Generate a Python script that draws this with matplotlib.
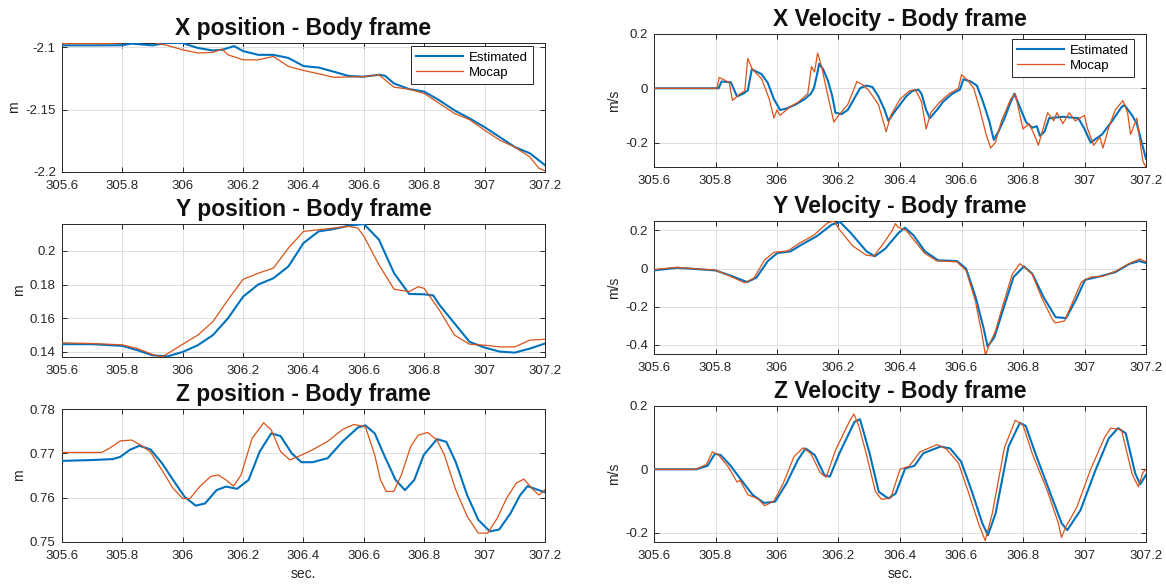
import matplotlib
matplotlib.use("Agg")
import matplotlib.pyplot as plt

plt.rcParams['font.family'] = ['Liberation Sans', 'DejaVu Sans']
plt.rcParams['axes.unicode_minus'] = False

BLUE = '#0072BD'
ORANGE = '#D95319'

# ---------------- data ----------------
xtick_vals = [305.6, 305.8, 306.0, 306.2, 306.4, 306.6, 306.8, 307.0, 307.2]
xtick_labels = ['305.6', '305.8', '306', '306.2', '306.4', '306.6', '306.8', '307', '307.2']

# X position
xpos_est_t = [305.60, 305.70, 305.80, 305.83, 305.90, 305.95, 306.00, 306.05, 306.10, 306.13, 306.17,
              306.20, 306.25, 306.30, 306.35, 306.40, 306.45, 306.50, 306.55, 306.60, 306.65, 306.67,
              306.70, 306.75, 306.80, 306.85, 306.90, 306.95, 307.00, 307.05, 307.10, 307.15, 307.20]
xpos_est = [-2.0984, -2.0984, -2.0983, -2.0970, -2.0984, -2.0962, -2.0966, -2.1005, -2.1025, -2.1020, -2.0990,
            -2.1030, -2.1060, -2.1060, -2.1085, -2.1150, -2.1162, -2.1195, -2.1230, -2.1235, -2.1220, -2.1228,
            -2.1290, -2.1335, -2.1355, -2.1425, -2.1505, -2.1570, -2.1640, -2.1720, -2.1800, -2.1850, -2.1945]
xpos_moc_t = [305.60, 305.75, 305.83, 305.90, 305.95, 306.00, 306.05, 306.10, 306.13, 306.15, 306.20,
              306.25, 306.30, 306.35, 306.40, 306.45, 306.50, 306.60, 306.65, 306.70, 306.75, 306.80,
              306.85, 306.90, 306.95, 307.00, 307.05, 307.10, 307.15, 307.18, 307.20]
xpos_moc = [-2.0970, -2.0970, -2.0958, -2.0958, -2.0985, -2.1020, -2.1045, -2.1040, -2.1013, -2.1060, -2.1100,
            -2.1100, -2.1073, -2.1153, -2.1185, -2.1212, -2.1240, -2.1235, -2.1220, -2.1320, -2.1335, -2.1370,
            -2.1450, -2.1530, -2.1580, -2.1665, -2.1745, -2.1800, -2.1880, -2.1970, -2.1990]

# X velocity
xvel_est_t = [305.60, 305.81, 305.82, 305.85, 305.87, 305.89, 305.905, 305.918, 305.95, 305.97, 305.99,
              306.01, 306.03, 306.06, 306.09, 306.11, 306.12, 306.13, 306.137, 306.15, 306.165, 306.18,
              306.19, 306.21, 306.23, 306.25, 306.27, 306.29, 306.31, 306.33, 306.35, 306.362, 306.38,
              306.40, 306.42, 306.44, 306.46, 306.47, 306.485, 306.497, 306.52, 306.54, 306.57, 306.595,
              306.606, 306.63, 306.65, 306.67, 306.69, 306.705, 306.72, 306.74, 306.76, 306.772, 306.79,
              306.81, 306.83, 306.845, 306.855, 306.87, 306.885, 306.93, 306.98, 307.00, 307.02, 307.057,
              307.09, 307.12, 307.13, 307.155, 307.17, 307.20]
xvel_est = [0.0, 0.0, 0.025, 0.022, -0.03, -0.02, -0.008, 0.07, 0.052, 0.02, -0.04,
            -0.08, -0.075, -0.06, -0.04, -0.02, 0.0, 0.05, 0.09, 0.07, 0.03, -0.03,
            -0.09, -0.095, -0.08, -0.04, 0.0, 0.01, 0.005, -0.03, -0.08, -0.12, -0.09,
            -0.06, -0.03, -0.01, -0.005, -0.02, -0.08, -0.11, -0.08, -0.05, -0.02, -0.005,
            0.033, 0.025, 0.01, -0.05, -0.12, -0.19, -0.16, -0.11, -0.05, -0.02, -0.07,
            -0.125, -0.145, -0.14, -0.175, -0.16, -0.11, -0.105, -0.11, -0.15, -0.2, -0.17,
            -0.12, -0.07, -0.062, -0.1, -0.13, -0.26]
xvel_moc_t = [305.60, 305.805, 305.812, 305.83, 305.845, 305.855, 305.88, 305.895, 305.905, 305.92, 305.95,
              305.975, 305.99, 306.00, 306.01, 306.04, 306.07, 306.10, 306.112, 306.122, 306.132, 306.145,
              306.16, 306.178, 306.185, 306.20, 306.23, 306.26, 306.28, 306.30, 306.33, 306.355, 306.37,
              306.40, 306.43, 306.45, 306.47, 306.485, 306.50, 306.53, 306.56, 306.59, 306.60, 306.62,
              306.64, 306.66, 306.68, 306.695, 306.71, 306.73, 306.76, 306.775, 306.79, 306.80, 306.82,
              306.84, 306.85, 306.87, 306.88, 306.90, 306.91, 306.93, 306.95, 306.97, 307.00, 307.01,
              307.03, 307.05, 307.06, 307.08, 307.10, 307.125, 307.14, 307.15, 307.17, 307.19, 307.20]
xvel_moc = [0.0, 0.0, 0.04, 0.03, 0.02, -0.045, -0.02, -0.01, 0.11, 0.07, 0.035,
            -0.04, -0.11, -0.08, -0.1, -0.07, -0.05, -0.02, 0.08, 0.06, 0.13, 0.08,
            0.0, -0.09, -0.125, -0.1, -0.06, 0.025, 0.012, -0.01, -0.06, -0.16, -0.1,
            -0.04, -0.01, -0.005, -0.05, -0.15, -0.09, -0.05, -0.02, 0.0, 0.05, 0.03,
            0.0, -0.08, -0.17, -0.22, -0.2, -0.12, -0.04, -0.02, -0.1, -0.15, -0.13,
            -0.18, -0.21, -0.13, -0.09, -0.12, -0.09, -0.13, -0.09, -0.12, -0.1, -0.15,
            -0.21, -0.18, -0.22, -0.14, -0.08, -0.045, -0.09, -0.17, -0.11, -0.27, -0.29]

# Y position
ypos_est_t = [305.60, 305.70, 305.80, 305.85, 305.90, 305.95, 306.00, 306.05, 306.10, 306.15, 306.20,
              306.25, 306.30, 306.35, 306.40, 306.45, 306.50, 306.55, 306.60, 306.65, 306.70, 306.75,
              306.80, 306.83, 306.85, 306.90, 306.95, 307.00, 307.05, 307.10, 307.15, 307.20]
ypos_est = [0.1446, 0.1446, 0.1436, 0.1410, 0.1380, 0.1374, 0.1400, 0.1440, 0.1500, 0.1600, 0.1728,
            0.1800, 0.1837, 0.1907, 0.2046, 0.2115, 0.2129, 0.2149, 0.2159, 0.2066, 0.1867, 0.1744,
            0.1742, 0.1735, 0.1680, 0.1570, 0.1460, 0.1426, 0.1402, 0.1396, 0.1420, 0.1450]
ypos_moc_t = [305.60, 305.70, 305.80, 305.85, 305.90, 305.93, 305.95, 306.00, 306.05, 306.10, 306.15,
              306.20, 306.25, 306.30, 306.35, 306.40, 306.45, 306.50, 306.55, 306.58, 306.60, 306.65,
              306.70, 306.75, 306.78, 306.80, 306.85, 306.90, 306.95, 307.00, 307.05, 307.10, 307.15, 307.20]
ypos_moc = [0.1454, 0.1450, 0.1442, 0.1420, 0.1385, 0.1370, 0.1390, 0.1446, 0.1500, 0.1580, 0.1710,
            0.1831, 0.1867, 0.1897, 0.2016, 0.2115, 0.2125, 0.2135, 0.2145, 0.2135, 0.2086, 0.1917,
            0.1772, 0.1758, 0.1787, 0.1777, 0.1648, 0.1500, 0.1446, 0.1440, 0.1430, 0.1430, 0.1470, 0.1475]

# Y velocity
yvel_est_t = [305.600, 305.676, 305.737, 305.800, 305.847, 305.903, 305.933, 305.970, 306.001, 306.044,
              306.080, 306.129, 306.178, 306.205, 306.240, 306.291, 306.318, 306.352, 306.395, 306.416,
              306.444, 306.481, 306.524, 306.585, 306.615, 306.646, 306.671, 306.685, 306.707, 306.738,
              306.769, 306.803, 306.830, 306.867, 306.906, 306.940, 306.971, 307.002, 307.051, 307.100,
              307.147, 307.178, 307.200]
yvel_est = [-0.010, 0.004, -0.003, -0.010, -0.036, -0.071, -0.048, 0.039, 0.081, 0.090,
            0.125, 0.169, 0.230, 0.244, 0.186, 0.090, 0.064, 0.104, 0.186, 0.214,
            0.174, 0.090, 0.043, 0.039, -0.001, -0.150, -0.307, -0.409, -0.360, -0.202,
            -0.045, 0.011, -0.027, -0.150, -0.255, -0.260, -0.167, -0.059, -0.041, -0.019,
            0.025, 0.039, 0.029]
yvel_moc_t = [305.600, 305.676, 305.737, 305.800, 305.840, 305.895, 305.925, 305.960, 305.990, 306.035,
              306.070, 306.120, 306.165, 306.185, 306.205, 306.245, 306.290, 306.315, 306.350, 306.375,
              306.385, 306.395, 306.420, 306.445, 306.480, 306.520, 306.585, 306.615, 306.645, 306.665,
              306.678, 306.690, 306.710, 306.735, 306.765, 306.790, 306.810, 306.830, 306.860, 306.895,
              306.905, 306.935, 306.955, 306.990, 307.020, 307.060, 307.100, 307.150, 307.180, 307.200]
yvel_moc = [-0.005, 0.006, -0.002, -0.008, -0.035, -0.075, -0.050, 0.045, 0.085, 0.092,
            0.130, 0.175, 0.240, 0.248, 0.200, 0.120, 0.070, 0.065, 0.140, 0.200,
            0.235, 0.215, 0.200, 0.150, 0.080, 0.040, 0.035, -0.010, -0.170, -0.330,
            -0.455, -0.400, -0.330, -0.190, -0.030, 0.025, 0.000, -0.030, -0.150, -0.265,
            -0.285, -0.275, -0.200, -0.070, -0.045, -0.040, -0.015, 0.030, 0.050, 0.035]

# Z position
zpos_est_t = [305.600, 305.706, 305.768, 305.793, 305.825, 305.856, 305.893, 305.931, 305.968, 306.006,
              306.043, 306.074, 306.112, 306.143, 306.180, 306.218, 306.255, 306.293, 306.324, 306.361,
              306.393, 306.430, 306.480, 306.530, 306.580, 306.605, 306.636, 306.667, 306.705, 306.736,
              306.767, 306.798, 306.842, 306.873, 306.904, 306.942, 306.979, 307.017, 307.048, 307.086,
              307.117, 307.142, 307.167, 307.200]
zpos_est = [0.7683, 0.7685, 0.7687, 0.7692, 0.7708, 0.7717, 0.7709, 0.7678, 0.7640, 0.7602,
            0.7582, 0.7587, 0.7617, 0.7625, 0.7620, 0.7640, 0.7704, 0.7745, 0.7739, 0.7700,
            0.7680, 0.7680, 0.7689, 0.7727, 0.7758, 0.7763, 0.7745, 0.7696, 0.7640, 0.7617,
            0.7640, 0.7696, 0.7732, 0.7726, 0.7681, 0.7606, 0.7550, 0.7524, 0.7528, 0.7565,
            0.7605, 0.7626, 0.7620, 0.7612]
zpos_moc_t = [305.600, 305.731, 305.756, 305.793, 305.831, 305.862, 305.893, 305.931, 305.968, 306.000,
              306.024, 306.056, 306.093, 306.118, 306.143, 306.168, 306.193, 306.230, 306.268, 306.293,
              306.324, 306.355, 306.393, 306.430, 306.480, 306.530, 306.567, 306.605, 306.636, 306.655,
              306.674, 306.699, 306.724, 306.755, 306.780, 306.811, 306.842, 306.867, 306.904, 306.942,
              306.979, 307.010, 307.042, 307.073, 307.105, 307.130, 307.161, 307.180, 307.200]
zpos_moc = [0.7702, 0.7702, 0.7711, 0.7728, 0.7730, 0.7718, 0.7703, 0.7662, 0.7621, 0.7598,
            0.7598, 0.7625, 0.7648, 0.7651, 0.7640, 0.7626, 0.7651, 0.7734, 0.7769, 0.7753,
            0.7704, 0.7685, 0.7696, 0.7708, 0.7727, 0.7754, 0.7765, 0.7760, 0.7696, 0.7640,
            0.7614, 0.7614, 0.7651, 0.7715, 0.7741, 0.7747, 0.7730, 0.7696, 0.7618, 0.7558,
            0.7520, 0.7520, 0.7554, 0.7599, 0.7633, 0.7642, 0.7618, 0.7606, 0.7618]

# Z velocity
zvel_est_t = [305.600, 305.737, 305.774, 305.798, 305.817, 305.847, 305.884, 305.921, 305.958, 305.994,
              306.031, 306.068, 306.093, 306.123, 306.154, 306.172, 306.203, 306.252, 306.270, 306.301,
              306.331, 306.362, 306.386, 306.417, 306.447, 306.476, 306.532, 306.563, 306.599, 306.632,
              306.668, 306.686, 306.711, 306.753, 306.790, 306.809, 306.840, 306.889, 306.926, 306.944,
              306.987, 307.036, 307.079, 307.109, 307.134, 307.165, 307.181, 307.200]
zvel_est = [0.000, 0.000, 0.011, 0.049, 0.045, 0.014, -0.034, -0.081, -0.106, -0.102,
            -0.044, 0.030, 0.066, 0.045, -0.018, -0.023, 0.051, 0.150, 0.158, 0.051,
            -0.071, -0.092, -0.076, 0.003, 0.011, 0.051, 0.072, 0.066, 0.024, -0.065,
            -0.171, -0.208, -0.139, 0.072, 0.147, 0.137, 0.051, -0.076, -0.171, -0.192,
            -0.129, -0.002, 0.098, 0.130, 0.114, -0.013, -0.047, -0.018]
zvel_moc_t = [305.600, 305.735, 305.770, 305.790, 305.810, 305.840, 305.870, 305.880, 305.905, 305.930,
              305.940, 305.960, 305.990, 306.020, 306.055, 306.085, 306.110, 306.140, 306.160, 306.190,
              306.235, 306.250, 306.265, 306.290, 306.320, 306.340, 306.370, 306.400, 306.430, 306.465,
              306.520, 306.550, 306.590, 306.620, 306.655, 306.677, 306.700, 306.740, 306.775, 306.800,
              306.830, 306.880, 306.915, 306.925, 306.940, 306.975, 307.020, 307.065, 307.085, 307.120,
              307.155, 307.175, 307.190, 307.200]
zvel_moc = [0.000, 0.000, 0.015, 0.055, 0.045, 0.010, -0.040, -0.035, -0.080, -0.090,
            -0.095, -0.115, -0.100, -0.045, 0.040, 0.068, 0.050, -0.010, -0.025, 0.060,
            0.150, 0.175, 0.140, 0.050, -0.070, -0.095, -0.090, 0.000, 0.010, 0.055,
            0.078, 0.065, 0.020, -0.065, -0.170, -0.225, -0.140, 0.070, 0.155, 0.140,
            0.050, -0.070, -0.170, -0.215, -0.180, -0.120, 0.000, 0.100, 0.130, 0.125,
            -0.015, -0.055, -0.010, 0.000]

W, H = 1166.0, 584.0
LX0, LX1 = 62.0, 545.0
RX0, RX1 = 654.0, 1146.0


def rect(x0, x1, ytop, ybot):
    return [x0 / W, 1 - ybot / H, (x1 - x0) / W, (ybot - ytop) / H]


panels = [
    # title, est_t, est, moc_t, moc, ylim, yticks, yticklabels, ylabel, rect, legend gaps (right, top), xlabel
    ("X position - Body frame", xpos_est_t, xpos_est, xpos_moc_t, xpos_moc, (-2.2, -2.0965),
     [-2.2, -2.15, -2.1], ['-2.2', '-2.15', '-2.1'], 'm', rect(LX0, LX1, 43, 172), (12, 3), False),
    ("X Velocity - Body frame", xvel_est_t, xvel_est, xvel_moc_t, xvel_moc, (-0.29, 0.2),
     [-0.2, 0.0, 0.2], ['-0.2', '0', '0.2'], 'm/s', rect(RX0, RX1, 34, 167), (12, 5), False),
    ("Y position - Body frame", ypos_est_t, ypos_est, ypos_moc_t, ypos_moc, (0.137, 0.2159),
     [0.14, 0.16, 0.18, 0.2], ['0.14', '0.16', '0.18', '0.2'], 'm', rect(LX0, LX1, 224, 357), None, False),
    ("Y Velocity - Body frame", yvel_est_t, yvel_est, yvel_moc_t, yvel_moc, (-0.448, 0.249),
     [-0.4, -0.2, 0.0, 0.2], ['-0.4', '-0.2', '0', '0.2'], 'm/s', rect(RX0, RX1, 221, 354), None, False),
    ("Z position - Body frame", zpos_est_t, zpos_est, zpos_moc_t, zpos_moc, (0.75, 0.78),
     [0.75, 0.76, 0.77, 0.78], ['0.75', '0.76', '0.77', '0.78'], 'm', rect(LX0, LX1, 409, 542), None, True),
    ("Z Velocity - Body frame", zvel_est_t, zvel_est, zvel_moc_t, zvel_moc, (-0.2295, 0.2),
     [-0.2, 0.0, 0.2], ['-0.2', '0', '0.2'], 'm/s', rect(RX0, RX1, 406, 542), None, True),
]

fig = plt.figure(figsize=(11.66, 5.84), dpi=100)
fig.patch.set_facecolor('white')

for (title, et, ev, mt, mv, ylim, yt, ytl, ylab, pos, leg, xlab) in panels:
    ax = fig.add_axes(pos)
    ax.plot(et, ev, color=BLUE, lw=1.5, label='Estimated', zorder=3)
    ax.plot(mt, mv, color=ORANGE, lw=0.9, label='Mocap', zorder=4)
    ax.set_xlim(305.6, 307.2)
    ax.set_ylim(*ylim)
    ax.set_xticks(xtick_vals)
    ax.set_xticklabels(xtick_labels)
    ax.set_yticks(yt)
    ax.set_yticklabels(ytl)
    ax.grid(True, color='#dedede', lw=0.7)
    ax.set_axisbelow(True)
    ax.tick_params(direction='in', length=3.5, width=0.7, top=True, right=True,
                   labelsize=9.5, colors='#262626')
    ax.tick_params(axis='x', pad=5.5)
    ax.tick_params(axis='y', pad=4.5)
    for sp in ax.spines.values():
        sp.set_color('#262626')
        sp.set_linewidth(0.7)
    ax.set_title(title, fontsize=16.5, fontweight='bold', pad=6, color='#111111')
    ax.set_ylabel(ylab, fontsize=10, color='#262626', labelpad=3)
    if xlab:
        ax.set_xlabel('sec.', fontsize=10, color='#262626', labelpad=4)
    if leg:
        aw = pos[2] * W
        ah = pos[3] * H
        lg = ax.legend(loc='upper right', bbox_to_anchor=(1 - leg[0] / aw, 1 - leg[1] / ah),
                       fontsize=9.5, frameon=True, fancybox=False,
                       edgecolor='#262626', framealpha=1, handlelength=3.6,
                       borderaxespad=0.0, borderpad=0.4, labelspacing=0.25, handletextpad=0.4)
        lg.get_frame().set_linewidth(0.7)

fig.savefig('out.png', dpi=100, facecolor='white')
